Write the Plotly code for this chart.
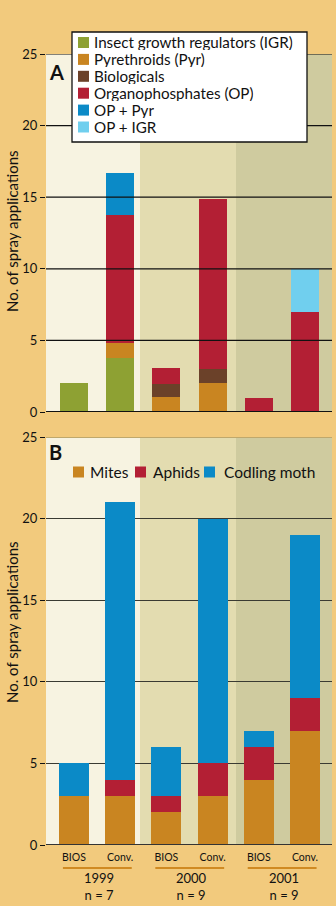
import plotly.graph_objects as go

# ---------------- data ----------------
groups = ["BIOS", "Conv.", "BIOS", "Conv.", "BIOS", "Conv."]
years = ["1999", "2000", "2001"]
n_orchards = [7, 9, 9]

a_names = ["Insect growth regulators (IGR)", "Pyrethroids (Pyr)", "Biologicals",
           "Organophosphates (OP)", "OP + Pyr", "OP + IGR"]
a_igr = [2.0, 3.8, 0, 0, 0, 0]
a_pyr = [0, 1.0, 1.05, 2.05, 0, 0]
a_bio = [0, 0, 0.9, 0.95, 0, 0]
a_op = [0, 8.95, 1.1, 11.9, 1.0, 7.0]
a_op_pyr = [0, 2.95, 0, 0, 0, 0]
a_op_igr = [0, 0, 0, 0, 0, 3.0]

b_names = ["Mites", "Aphids", "Codling moth"]
b_mites = [3, 3, 2, 3, 4, 7]
b_aphids = [0, 1, 1, 2, 2, 2]
b_codling = [2, 17, 3, 15, 1, 10]

y_ticks = [0, 5, 10, 15, 20, 25]

# ---------------- style ----------------
C_IGR = "#8EA133"
C_PYR = "#C98521"
C_BIO = "#6B4129"
C_OP = "#B31F34"
C_OPPYR = "#0B8AC7"
C_OPIGR = "#70CFEE"
a_colors = [C_IGR, C_PYR, C_BIO, C_OP, C_OPPYR, C_OPIGR]
b_colors = [C_PYR, C_OP, C_OPPYR]
BG = "#F2CA7D"
BANDS = ["#F7F3E1", "#E3DCB0", "#CFCB9F"]
FONT = "Lato"
INK = "#111111"

W, H = 336, 912
ML, MR = 46, 4
PW = W - ML - MR


def px_x(p):
    return (p - ML) / PW


def px_y(p):
    return 1 - p / H


xpos = list(range(len(groups)))
xr = [-0.606, 5.584]

a_series = [a_igr, a_pyr, a_bio, a_op, a_op_pyr, a_op_igr]
b_series = [b_mites, b_aphids, b_codling]

fig = go.Figure()
for name, vals, col in zip(a_names, a_series, a_colors):
    fig.add_trace(go.Bar(x=xpos, y=vals, name=name, marker_color=col,
                         marker_line_width=0, width=0.606, xaxis="x", yaxis="y",
                         showlegend=False))
for name, vals, col in zip(b_names, b_series, b_colors):
    fig.add_trace(go.Bar(x=xpos, y=vals, name=name, marker_color=col,
                         marker_line_width=0, width=0.65, xaxis="x2", yaxis="y2",
                         showlegend=False))

shapes = []
annotations = []

# background bands
band_edges = [0, px_x(140), px_x(236), 1]
for yref in ["y domain", "y2 domain"]:
    for i in range(3):
        shapes.append(dict(type="rect", xref="x domain", yref=yref,
                           x0=band_edges[i], x1=band_edges[i + 1], y0=0, y1=1,
                           fillcolor=BANDS[i], line_width=0, layer="below"))

# panel A gridlines above bars
for t in y_ticks:
    shapes.append(dict(type="line", xref="x domain", yref="y", x0=0, x1=1, y0=t, y1=t,
                       line=dict(color=INK, width=1.8 if t == 0 else 1.2),
                       layer="above"))
# panel B top and zero line
shapes.append(dict(type="line", xref="x2 domain", yref="y2", x0=0, x1=1, y0=25, y1=25,
                   line=dict(color="#BFA86C", width=2), layer="above"))
shapes.append(dict(type="line", xref="x2 domain", yref="y2", x0=0, x1=1, y0=0, y1=0,
                   line=dict(color="#333333", width=1.8), layer="above"))

# legend A (boxed)
shapes.append(dict(type="rect", xref="paper", yref="paper",
                   x0=px_x(72), x1=px_x(307), y0=px_y(142), y1=px_y(32),
                   fillcolor="white", line=dict(color=INK, width=1.3), layer="above"))
row0 = 42.5
for i, (name, col) in enumerate(zip(a_names, a_colors)):
    yc = row0 + i * 16.9
    shapes.append(dict(type="rect", xref="paper", yref="paper",
                       x0=px_x(78), x1=px_x(89), y0=px_y(yc + 5.5), y1=px_y(yc - 5.5),
                       fillcolor=col, line_width=0, layer="above"))
    annotations.append(dict(text=name, xref="paper", yref="paper", x=px_x(93), y=px_y(yc),
                            xanchor="left", yanchor="middle", showarrow=False,
                            height=16, borderpad=0,
                            font=dict(family=FONT, size=15.2, color=INK)))

# legend B (horizontal, no box)
b_leg_sq = [73, 135, 204]
b_leg_tx = [88, 151, 222]
for name, col, sx, tx in zip(b_names, b_colors, b_leg_sq, b_leg_tx):
    shapes.append(dict(type="rect", xref="paper", yref="paper",
                       x0=px_x(sx), x1=px_x(sx + 11), y0=px_y(477.5), y1=px_y(466.5),
                       fillcolor=col, line_width=0, layer="above"))
    annotations.append(dict(text=name, xref="paper", yref="paper", x=px_x(tx), y=px_y(472),
                            xanchor="left", yanchor="middle", showarrow=False,
                            font=dict(family=FONT, size=15.5, color=INK)))

# panel letters
annotations.append(dict(text="<b>A</b>", xref="paper", yref="paper", x=px_x(47), y=px_y(72),
                        xanchor="left", yanchor="middle", showarrow=False,
                        font=dict(family=FONT, size=20, color=INK)))
annotations.append(dict(text="<b>B</b>", xref="paper", yref="paper", x=px_x(47), y=px_y(452),
                        xanchor="left", yanchor="middle", showarrow=False,
                        font=dict(family=FONT, size=20, color=INK)))

# y-axis titles
for yc in [231, 622]:
    annotations.append(dict(text="No. of spray applications", xref="paper", yref="paper",
                            x=px_x(12), y=px_y(yc), xanchor="center", yanchor="middle",
                            textangle=-90, showarrow=False,
                            font=dict(family=FONT, size=15, color=INK)))

# year group labels + underlines
for i, (yr, n) in enumerate(zip(years, n_orchards)):
    shapes.append(dict(type="line", xref="x2", yref="paper", x0=2 * i - 0.24, x1=2 * i + 1.25,
                       y0=px_y(868), y1=px_y(868), line=dict(color="#D08A22", width=2),
                       layer="above"))
    annotations.append(dict(text=f"{yr}<br>n = {n}", xref="x2", yref="paper", x=2 * i + 0.5,
                            y=px_y(886), xanchor="center", yanchor="middle", showarrow=False,
                            xshift=2, font=dict(family=FONT, size=13, color=INK)))

# white strip at bottom of page
shapes.append(dict(type="rect", xref="paper", yref="paper", x0=-ML / PW, x1=1 + MR / PW,
                   y0=0, y1=6 / H, fillcolor="white", line_width=0, layer="below"))

yaxis_common = dict(range=[0, 25], tickvals=y_ticks, ticks="outside", ticklen=5,
                    tickcolor=INK, tickwidth=1.2, showline=False, zeroline=False,
                    tickfont=dict(family=FONT, size=13, color=INK), fixedrange=True)

fig.update_layout(
    width=W, height=H,
    margin=dict(l=ML, r=MR, t=0, b=0, pad=0, autoexpand=False),
    paper_bgcolor=BG, plot_bgcolor=BG,
    barmode="stack", bargap=0,
    showlegend=False,
    font=dict(family=FONT, color=INK),
    xaxis=dict(domain=[0, 1], range=xr, anchor="y", showticklabels=False, showgrid=False,
               zeroline=False, showline=False, ticks="", fixedrange=True),
    xaxis2=dict(domain=[0, 1], range=xr, anchor="y2", tickvals=xpos, ticktext=groups,
                showgrid=False, zeroline=False, showline=False, ticks="", fixedrange=True,
                tickfont=dict(family=FONT, size=10.5, color=INK), ticklabelstandoff=4),
    yaxis=dict(domain=[px_y(412), px_y(54)], anchor="x", showgrid=False, **yaxis_common),
    yaxis2=dict(domain=[px_y(845), px_y(437)], anchor="x2", showgrid=True,
                gridcolor="#3A3A32", gridwidth=1.2, **yaxis_common),
    shapes=shapes,
    annotations=annotations,
)

fig.write_html("out.html")
